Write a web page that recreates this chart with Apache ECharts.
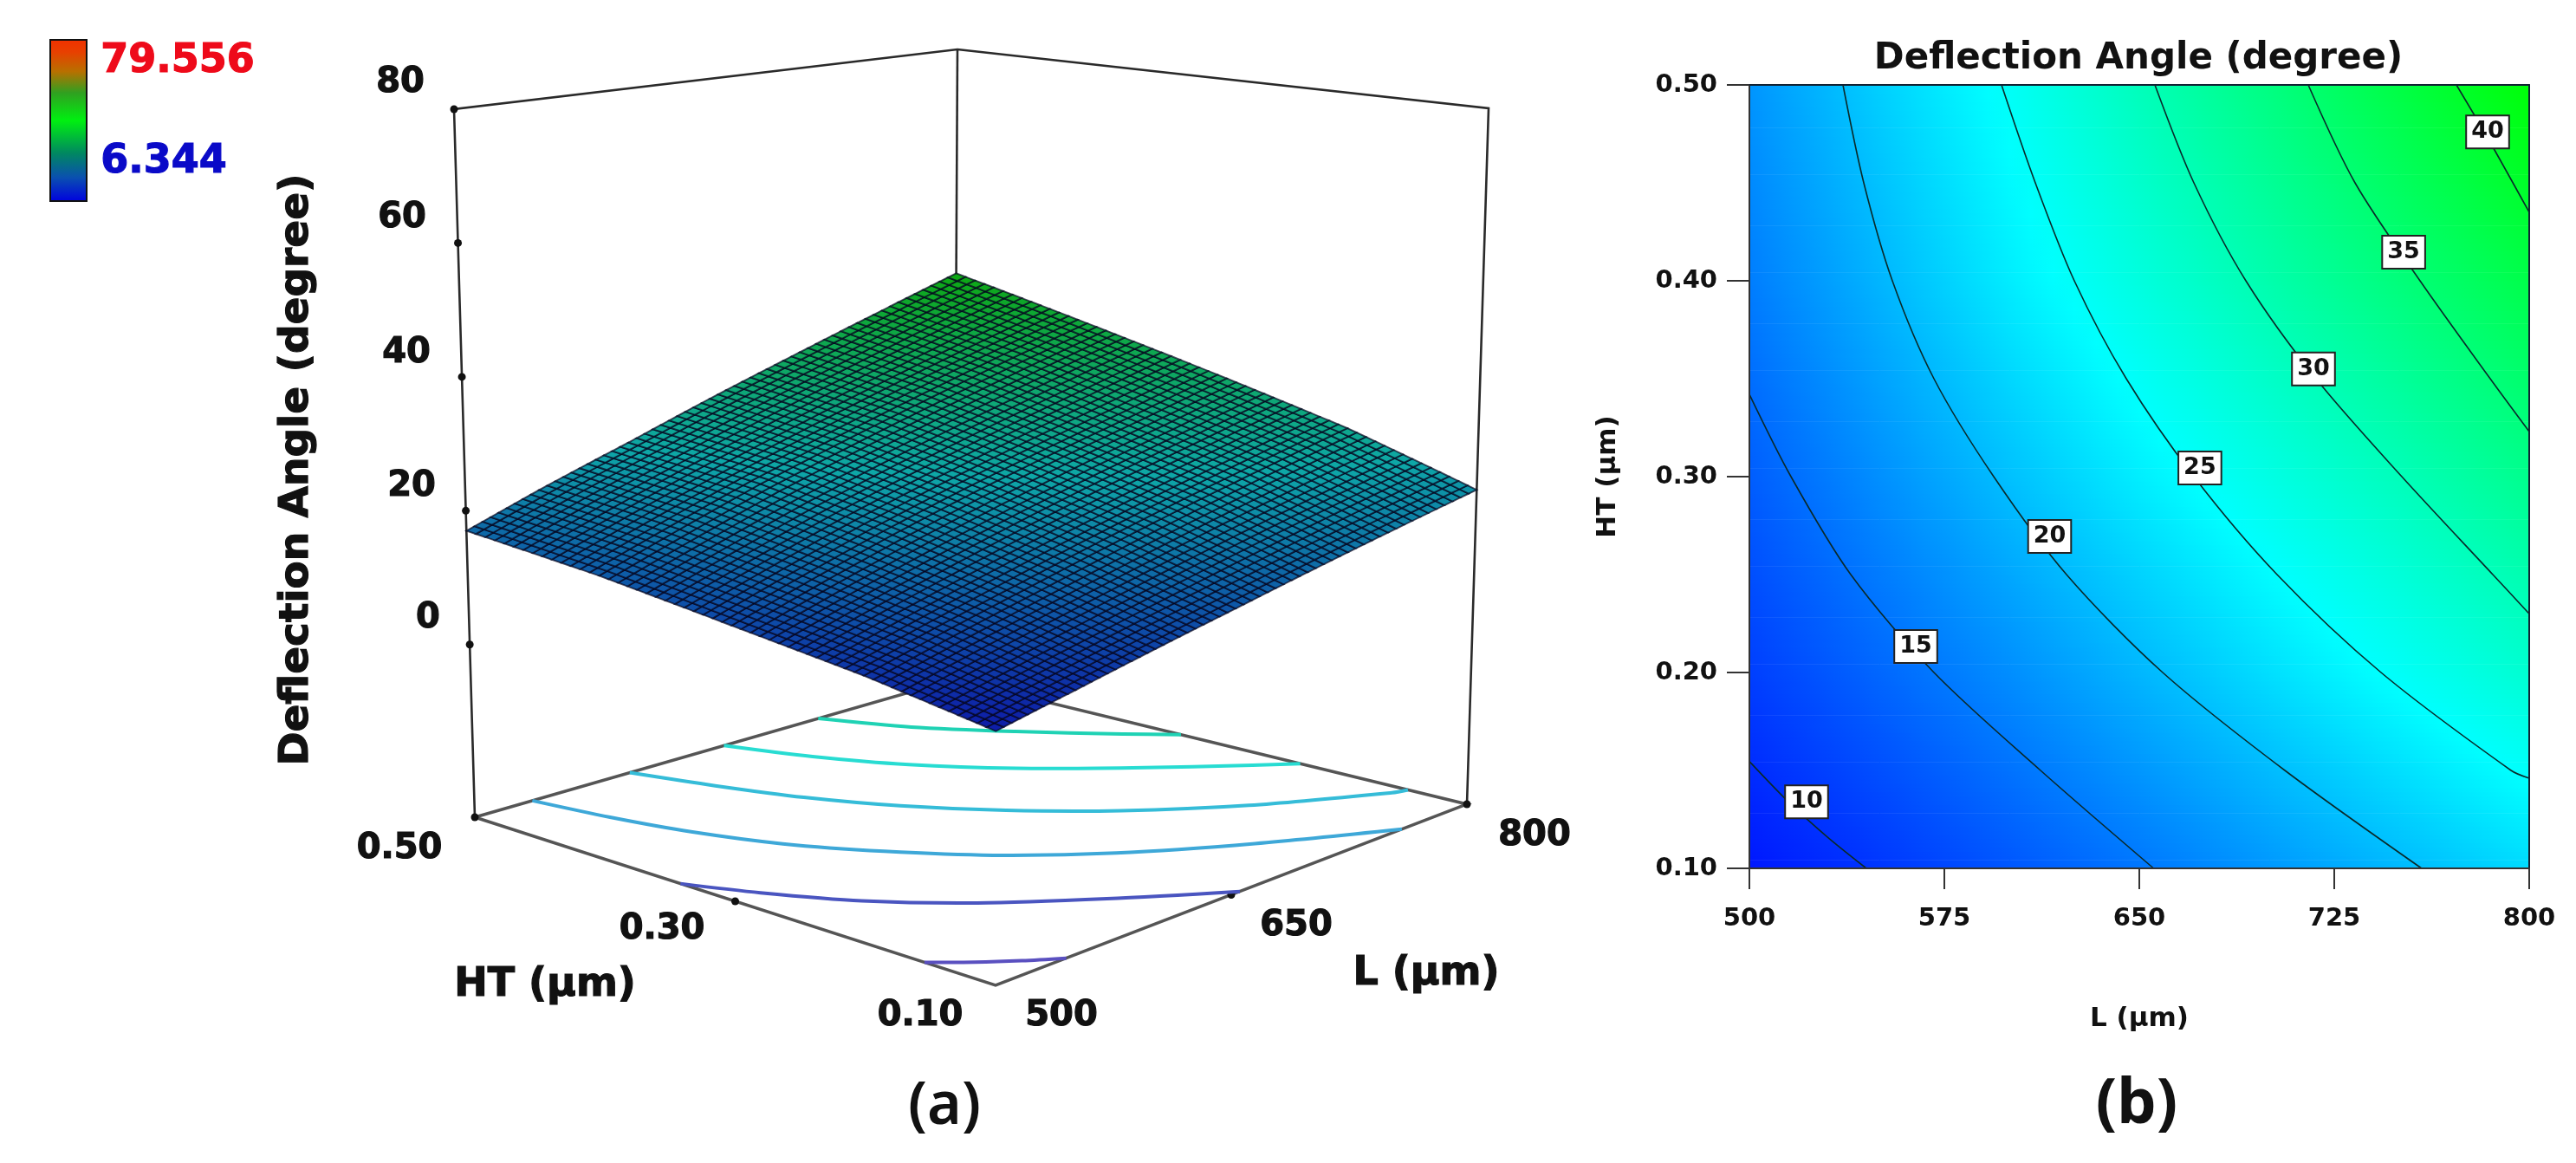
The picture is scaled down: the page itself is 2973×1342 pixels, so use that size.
<!DOCTYPE html>
<html><head><meta charset="utf-8">
<style>html,body{margin:0;padding:0;background:#fff}#c{width:2973px;height:1342px}</style>
<script src="https://cdn.jsdelivr.net/npm/echarts@6/dist/echarts.min.js"></script>
</head><body><div id="c"></div>
<script>
// ---------- data ----------
const L_GRID = [500,550,600,650,700,750,800];
const HT_GRID = [0.10,0.20,0.30,0.40,0.50];
const Z_AT_HT010 = [8.0,10.2,12.5,14.8,17.2,19.6,22.0];
const Z_AT_HT020 = [10.8,13.7,16.5,19.4,22.3,25.1,27.9];
const Z_AT_HT030 = [13.0,16.6,20.1,23.4,26.5,29.5,32.8];
const Z_AT_HT040 = [15.3,19.3,23.3,26.9,30.5,34.1,37.6];
const Z_AT_HT050 = [17.0,21.2,25.2,29.5,33.7,38.0,42.4];
const Z_ROWS = [Z_AT_HT010,Z_AT_HT020,Z_AT_HT030,Z_AT_HT040,Z_AT_HT050];

const CONTOUR_10 = [[500,.1546],[515,.134],[530,.116],[545,.10]];
const CONTOUR_15 = [[500,.342],[516,.30],[539,.25],[571,.20],[612,.15],[655.5,.10]];
const CONTOUR_20 = [[536,.50],[544,.45],[555,.40],[571,.35],[594,.30],[622,.25],[659,.20],[706,.15],[758.6,.10]];
const CONTOUR_25 = [[597,.50],[610,.45],[625,.40],[645,.35],[671,.30],[703,.25],[743,.20],[793,.15],[800,.146]];
const CONTOUR_30 = [[656,.50],[671,.45],[691,.40],[718,.35],[751,.30],[786,.25],[800,.23]];
const CONTOUR_35 = [[715,.50],[733,.45],[758,.40],[785,.35],[800,.323]];
const CONTOUR_40 = [[772,.50],[784,.473],[800,.435]];
const CONTOUR_LEVELS = [10,15,20,25,30,35,40];
const CONTOURS = [CONTOUR_10,CONTOUR_15,CONTOUR_20,CONTOUR_25,CONTOUR_30,CONTOUR_35,CONTOUR_40];
const CONTOUR_LABELS = [[522,.134,10],[564,.2133,15],[615.5,.2695,20],[673.3,.3044,25],[717,.355,30],[751.7,.4146,35],[784,.476,40]];
const FLOOR_LEVELS = [10,15,20,25,30,35];

const Z_TICKS_3D = [0,20,40,60,80];
const HT_TICKS_3D = [0.10,0.30,0.50];
const L_TICKS_3D = [500,650,800];
const TITLE = 'Deflection Angle (degree)';
const X_NAME = 'L (\u00b5m)';
const Y_NAME = 'HT (\u00b5m)';
const RANGE_MAX = '79.556';
const RANGE_MIN = '6.344';

// ---------- value to colour, panel (b) palette ----------
const PAL_Z = [6.344,24.6,42.9];
const PAL_C = [[0,0,255],[0,255,255],[0,255,0]];
function palette(z){
  z=Math.max(PAL_Z[0],Math.min(PAL_Z[2],z));
  const k=z<PAL_Z[1]?0:1, t=(z-PAL_Z[k])/(PAL_Z[k+1]-PAL_Z[k]);
  return PAL_C[k].map((c,i)=>c+(PAL_C[k+1][i]-c)*t);
}
const rgb=(c,f=1,add=0)=>`rgb(${Math.round(c[0]*f+add)},${Math.round(c[1]*f+add)},${Math.round(c[2]*f+add)})`;
const lerp=(a,b,t)=>a+(b-a)*t;

// ---------- table cells ----------
const CELLS=[];
for(let j=0;j<HT_GRID.length-1;j++)for(let i=0;i<L_GRID.length-1;i++)
  CELLS.push([L_GRID[i],HT_GRID[j],L_GRID[i+1],HT_GRID[j+1],Z_ROWS[j][i],Z_ROWS[j][i+1],Z_ROWS[j+1][i],Z_ROWS[j+1][i+1]]);

// ---------- 3D view: box corners on the overlay scale ----------
const VIEW={zLow:-25.8,zHigh:80,
  low:{f:[1149,1137],r:[1693,928],l:[548,943],b:[1101,784]},
  high:{f:[1150,219],r:[1718,125],l:[524,126],b:[1105,57]}};
function view(L,HT,z){
  const u=(L-500)/300,v=(HT-.1)/.4,w=(z-VIEW.zLow)/(VIEW.zHigh-VIEW.zLow);
  const q=(s,k)=>lerp(lerp(s.f[k],s.r[k],u),lerp(s.l[k],s.b[k],u),v);
  return [lerp(q(VIEW.low,0),q(VIEW.high,0),w),lerp(q(VIEW.low,1),q(VIEW.high,1),w)];
}
const HT0=.1,HT1=.5,L0=500,L1=800,ZB=VIEW.zLow,ZT=VIEW.zHigh;

function renderBox(p,api){
  const P=(a,b,c)=>api.coord(view(a,b,c));
  const seg=(pts,c,w)=>({type:'polyline',shape:{points:pts},style:{stroke:c,lineWidth:w,fill:null},silent:true});
  const ch=[
    seg([P(L0,HT1,ZB),P(L0,HT0,ZB),P(L1,HT0,ZB),P(L1,HT1,ZB),P(L0,HT1,ZB)],'#555',3.5),
    seg([P(L0,HT1,ZB),P(L0,HT1,ZT),P(L1,HT1,ZT),P(L1,HT0,ZT),P(L1,HT0,ZB)],'#2a2a2a',2.6),
    seg([P(L1,HT1,ZT),P(L1,HT1,ZB)],'#2a2a2a',2.6)
  ];
  const dot=c=>({type:'circle',shape:{cx:c[0],cy:c[1],r:4.5},style:{fill:'#111'},silent:true});
  Z_TICKS_3D.forEach(z=>ch.push(dot(P(L0,HT1,z))));
  ch.push(dot(P(L0,HT1,ZB)),dot(P(L1,HT0,ZB)),dot(P(L0,.3,ZB)),dot(P(650,HT0,ZB)));
  return {type:'group',children:ch};
}
const FLOOR_COL={10:'#5a50c0',15:'#4a55c0',20:'#3ea8d8',25:'#35bcd8',30:'#28dcd2',35:'#1fd2b4'};
function renderFloor(p,api){
  const lev=api.value(0),cv=CONTOURS[CONTOUR_LEVELS.indexOf(lev)];
  return {type:'polyline',silent:true,
    shape:{points:cv.map(q=>api.coord(view(q[0],q[1],ZB))),smooth:.3},
    style:{stroke:FLOOR_COL[lev],lineWidth:4,fill:null}};
}
function renderSurface(p,api){
  const v=[0,1,2,3,4,5,6,7].map(i=>api.value(i));
  const NU=10,NV=14,ch=[];
  const zAt=(a,b)=>lerp(lerp(v[4],v[5],a),lerp(v[6],v[7],a),b);
  const pt=(a,b)=>api.coord(view(lerp(v[0],v[2],a),lerp(v[1],v[3],b),zAt(a,b)));
  for(let i=0;i<NU;i++)for(let j=0;j<NV;j++){
    const a0=i/NU,a1=(i+1)/NU,b0=j/NV,b1=(j+1)/NV;
    ch.push({type:'polygon',silent:true,
      shape:{points:[pt(a0,b0),pt(a1,b0),pt(a1,b1),pt(a0,b1)]},
      style:{fill:rgb(palette(zAt((a0+a1)/2,(b0+b1)/2)),.6,14),stroke:'rgba(4,4,30,.7)',lineWidth:1.9}});
  }
  return {type:'group',children:ch};
}
function renderField(p,api){
  const v=[0,1,2,3,4,5,6,7].map(i=>api.value(i));
  const S=46,K=6,ch=[];
  for(let s=0;s<S;s++){
    const t=(s+.5)/S;
    const zl=lerp(v[4],v[6],t),zr=lerp(v[5],v[7],t);
    const a=api.coord([v[0],lerp(v[1],v[3],(s+1)/S)]),b=api.coord([v[2],lerp(v[1],v[3],s/S)]);
    const stops=[];
    for(let k=0;k<=K;k++)stops.push({offset:k/K,color:rgb(palette(lerp(zl,zr,k/K)))});
    ch.push({type:'rect',silent:true,
      shape:{x:a[0],y:a[1],width:b[0]-a[0]+(v[2]<800?.6:0),height:b[1]-a[1]+(s===0&&v[1]===.1?0:.7)},
      style:{fill:{type:'linear',x:0,y:0,x2:1,y2:0,colorStops:stops}}});
  }
  return {type:'group',children:ch};
}

// ---------- series ----------
const series=[
  {type:'custom',name:'box',xAxisIndex:0,yAxisIndex:0,data:[[0,0]],renderItem:renderBox,z:2,silent:true},
  {type:'custom',name:'floor contours',xAxisIndex:0,yAxisIndex:0,data:FLOOR_LEVELS.map(l=>[l,0]),renderItem:renderFloor,z:3,silent:true},
  {type:'custom',name:'surface',xAxisIndex:0,yAxisIndex:0,data:CELLS,renderItem:renderSurface,z:4,silent:true,
    dimensions:['a','b','c','d','e','f','g','h'],encode:{x:0,y:1}},
  {type:'custom',name:'field',xAxisIndex:1,yAxisIndex:1,data:CELLS,renderItem:renderField,z:2,silent:true,
    dimensions:['a','b','c','d','e','f','g','h'],encode:{x:0,y:1}}
];
CONTOURS.forEach((c,i)=>series.push({type:'line',name:'contour '+CONTOUR_LEVELS[i],xAxisIndex:1,yAxisIndex:1,data:c,
  showSymbol:false,smooth:.3,lineStyle:{color:'#0a2a2a',width:1.6},z:5,silent:true}));
series.push({type:'scatter',name:'contour labels',xAxisIndex:1,yAxisIndex:1,data:CONTOUR_LABELS,symbolSize:0,z:8,silent:true,
  itemStyle:{opacity:1},
  label:{show:true,position:'inside',opacity:1,formatter:p=>String(p.value[2]),color:'#111',
    fontFamily:'DejaVu Sans',fontWeight:'bold',fontSize:27,backgroundColor:'#fff',borderColor:'#222',borderWidth:2,
    padding:[5,5,4,5]}});

const axFont={fontFamily:'DejaVu Sans',fontWeight:'bold',color:'#111'};
const hidden={show:false};
const option={
  animation:false,backgroundColor:'#fff',
  title:{text:TITLE,left:2463,top:42,textAlign:'center',textStyle:{...axFont,fontSize:42}},
  grid:[{left:0,top:0,width:2973,height:1342},{left:2019,top:98,width:900,height:904}],
  xAxis:[
    {...hidden,type:'value',gridIndex:0,min:0,max:2973},
    {type:'value',gridIndex:1,min:500,max:800,interval:75,name:X_NAME,nameLocation:'middle',nameGap:158,
      nameTextStyle:{...axFont,fontSize:31},z:6,
      axisLine:{show:true,lineStyle:{color:'#333',width:2}},splitLine:{show:false},
      axisTick:{show:true,length:24,lineStyle:{color:'#333',width:2}},
      axisLabel:{...axFont,fontSize:29,margin:44}},
    {type:'value',gridIndex:1,position:'top',min:500,max:800,z:6,splitLine:{show:false},axisTick:{show:false},axisLabel:{show:false},
      axisLine:{show:true,lineStyle:{color:'#123',width:2}}}
  ],
  yAxis:[
    {...hidden,type:'value',gridIndex:0,min:0,max:1342,inverse:true},
    {type:'value',gridIndex:1,min:.1,max:.5,interval:.1,name:Y_NAME,nameLocation:'middle',nameGap:148,nameRotate:90,
      nameTextStyle:{...axFont,fontSize:31},z:6,
      axisLine:{show:true,lineStyle:{color:'#333',width:2}},splitLine:{show:false},
      axisTick:{show:true,length:26,lineStyle:{color:'#333',width:2}},
      axisLabel:{...axFont,fontSize:29,margin:37,padding:[0,0,14,0],formatter:v=>Number(v).toFixed(2)}},
    {type:'value',gridIndex:1,position:'right',min:.1,max:.5,z:6,splitLine:{show:false},axisTick:{show:false},axisLabel:{show:false},
      axisLine:{show:true,lineStyle:{color:'#123',width:2}}}
  ],
  series
};

// ---------- page furniture: 3D labels, colour bar, panel letters ----------
const txt=(s,x,y,size,o={})=>({type:'text',x,y,rotation:o.rot||0,z:20,silent:true,
  style:{text:s,fontFamily:o.font||'DejaVu Sans',fontWeight:o.w||'bold',fontSize:size,fill:o.c||'#111',
    stroke:o.thin?null:(o.c||'#111'),lineWidth:o.thin?0:1.2,
    align:'center',verticalAlign:'middle',textAlign:'center',textVerticalAlign:'middle'}});
const zLabelAt=[[494,714],[475,562],[469,408],[464,252],[462,96]];
const htLabelAt=[[1062,1173],[764,1073],[461,980]];
const lLabelAt=[[1225,1173],[1496,1069],[1771,965]];
option.graphic={elements:[
  {type:'rect',z:20,silent:true,shape:{x:58,y:46,width:42,height:186},
   style:{stroke:'#111',lineWidth:2,fill:{type:'linear',x:0,y:0,x2:0,y2:1,colorStops:[
     {offset:0,color:'#f03000'},{offset:.08,color:'#e84000'},{offset:.2,color:'#b87000'},{offset:.33,color:'#30a020'},
     {offset:.5,color:'#00f010'},{offset:.7,color:'#008860'},{offset:.85,color:'#0a50b0'},{offset:1,color:'#0000e0'}]}}},
  txt(RANGE_MAX,205,71,46,{c:'#ee0a1a'}),
  txt(RANGE_MIN,189,187,46,{c:'#0a0ac8'}),
  txt(TITLE,343,542,47,{rot:Math.PI/2}),
  ...Z_TICKS_3D.map((t,i)=>txt(String(t),zLabelAt[i][0],zLabelAt[i][1],40)),
  ...HT_TICKS_3D.map((t,i)=>txt(t.toFixed(2),htLabelAt[i][0],htLabelAt[i][1],40)),
  ...L_TICKS_3D.map((t,i)=>txt(String(t),lLabelAt[i][0],lLabelAt[i][1],40)),
  txt(Y_NAME,629,1137,46),
  txt(X_NAME,1646,1124,46),
  txt('(a)',1090,1278,68,{font:'Noto Sans',w:600,thin:true}),
  txt('(b)',2466,1275,72,{font:'Noto Sans',w:700,thin:true})
]};
const chart=echarts.init(document.getElementById('c'));
chart.setOption(option);
</script></body></html>
